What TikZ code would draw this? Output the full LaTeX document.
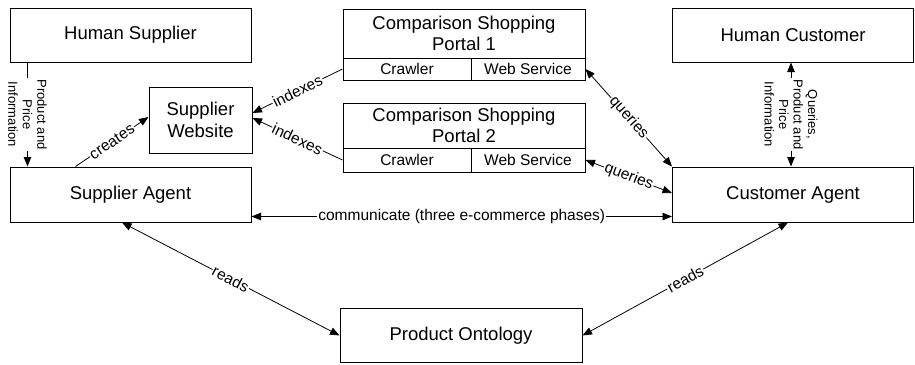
\documentclass[tikz,border=0pt]{standalone}
\usepackage{fontspec}
\setmainfont{Liberation Sans}
\usetikzlibrary{arrows.meta}
\begin{document}
\begin{tikzpicture}[x=1pt,y=-1pt,
  >={Triangle[length=9.5pt,width=7.5pt]},
  box/.style={draw, line width=1pt, rectangle, inner sep=0pt, align=center,
    font=\fontsize{18.5}{21.5}\selectfont},
  sub/.style={box, font=\fontsize{15.5}{18}\selectfont},
  conn/.style={line width=0.8pt},
  lbl/.style={fill=white, inner sep=1pt, font=\fontsize{15.5}{18}\selectfont},
  vlbl/.style={fill=white, inner sep=1pt, rotate=-90, align=center,
    font=\fontsize{13}{14.5}\selectfont}]
\useasboundingbox (0,0) rectangle (915,364);
% boxes
\node[box, minimum width=241pt, minimum height=54pt] (hs) at (130.5,35) {Human Supplier};
\node[box, minimum width=103pt, minimum height=66pt] (sw) at (200.5,120) {Supplier\\Website};
\node[box, minimum width=241pt, minimum height=55pt] (sa) at (130.5,194.5) {Supplier Agent};
\node[box, minimum width=242pt, minimum height=54pt] (po) at (461,335.5) {Product Ontology};
\node[box, minimum width=241pt, minimum height=55pt] (ca) at (793,194.5) {Customer Agent};
\node[box, minimum width=241pt, minimum height=54pt] (hc) at (793,35) {Human Customer};
% portal 1
\node[box, minimum width=242pt, minimum height=49pt] (csp1) at (464,33.5) {Comparison Shopping\\Portal 1};
\node[sub, minimum width=128pt, minimum height=22pt] (csp1c) at (407,69) {Crawler};
\node[sub, minimum width=114pt, minimum height=22pt] (csp1w) at (528,69) {Web Service};
% portal 2
\node[box, minimum width=242pt, minimum height=45pt] (csp2) at (464,125.5) {Comparison Shopping\\Portal 2};
\node[sub, minimum width=128pt, minimum height=24pt] (csp2c) at (407,160) {Crawler};
\node[sub, minimum width=114pt, minimum height=24pt] (csp2w) at (528,160) {Web Service};
% connectors
\draw[conn,->] ([xshift=18pt]hs.south west) -- ([xshift=18pt]sa.north west)
  node[midway, vlbl] {Product and\\Price\\Information};
\draw[conn,<->] ([xshift=-2pt]hc.south) -- ([xshift=-2pt]ca.north)
  node[midway, vlbl] {Queries,\\Product and\\Price\\Information};
\draw[conn,->] ([xshift=66pt]sa.north west) -- ([yshift=3pt]sw.west)
  node[midway, sloped, lbl] {creates};
\draw[conn,->] (csp1c.west) -- ([yshift=7pt]sw.east)
  node[midway, sloped, lbl] {indexes};
\draw[conn,->] (csp2c.west) -- ([yshift=2pt]sw.east)
  node[midway, sloped, lbl] {indexes};
\draw[conn,<->] (csp1w.east) -- (ca.north west)
  node[midway, sloped, lbl] {queries};
\draw[conn,<->] (csp2w.east) -- ([yshift=1.5pt]ca.west)
  node[midway, sloped, lbl] {queries};
\draw[conn,<->] ([yshift=-22pt]sa.east) -- ([yshift=-22pt]ca.west)
  node[midway, lbl] {communicate (three e-commerce phases)};
\draw[conn,<->] ([xshift=-8.5pt]sa.south) -- (po.west)
  node[midway, sloped, lbl] {reads};
\draw[conn,<->] ([xshift=-5pt]ca.south) -- (po.east)
  node[midway, sloped, lbl] {reads};
\end{tikzpicture}
\end{document}
